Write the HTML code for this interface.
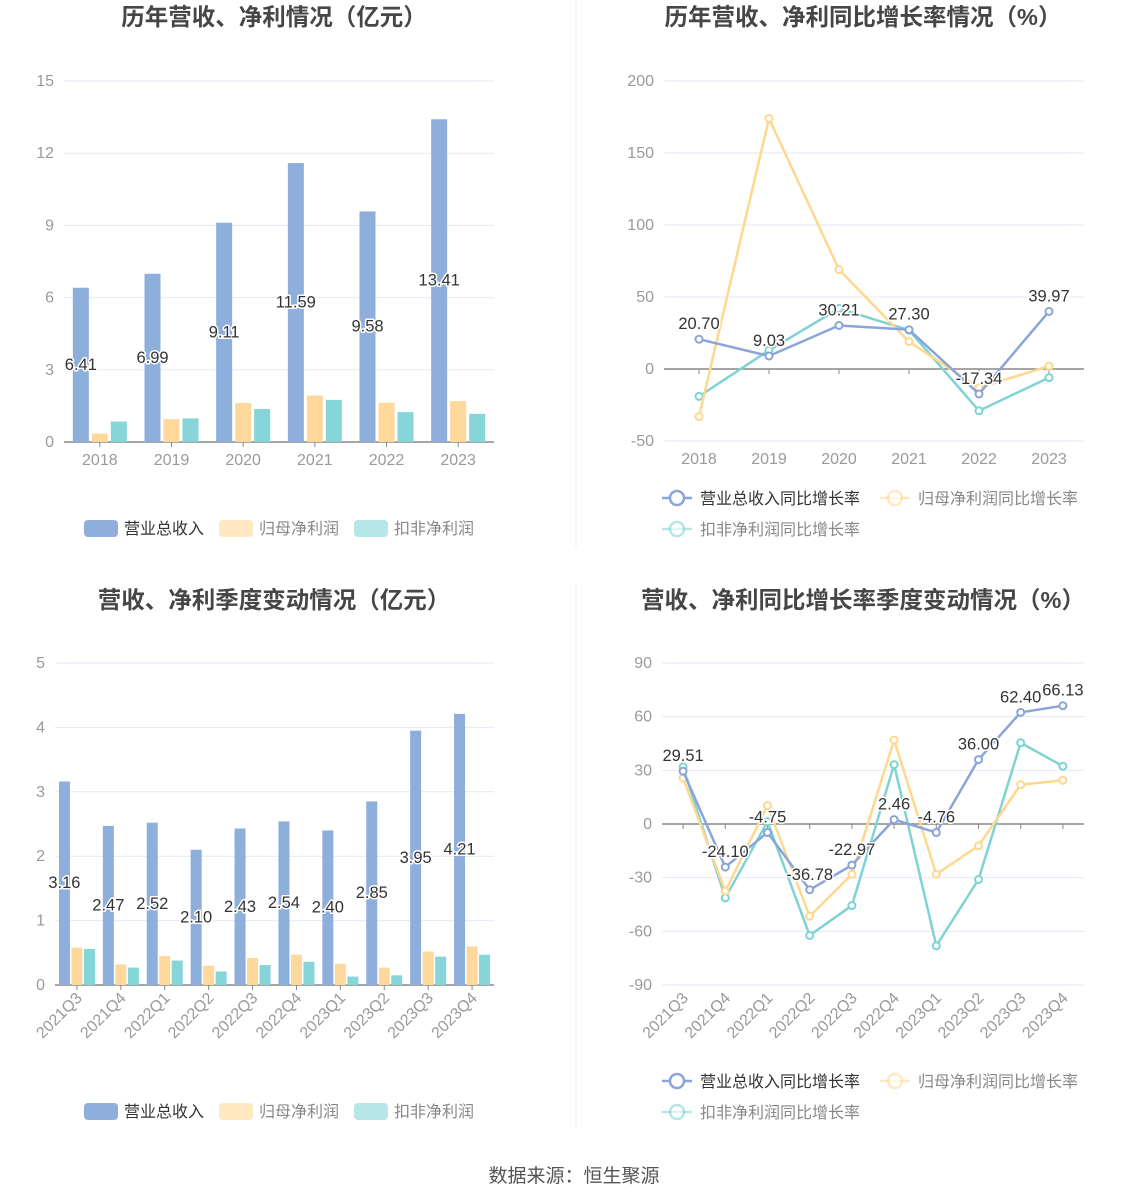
<!DOCTYPE html>
<html><head><meta charset="utf-8">
<style>
html,body{margin:0;padding:0;background:#fff;}
svg{display:block;font-family:"Liberation Sans","Noto Sans CJK SC",sans-serif;}
.ttl{font-size:23.5px;font-weight:bold;fill:#464646;text-anchor:middle;}
.ax{font-size:16px;fill:#9a9a9a;}
.lbl{font-size:16.5px;fill:#333;paint-order:stroke;stroke:#fff;stroke-width:3px;stroke-linejoin:round;text-anchor:middle;}
.lg{font-size:16px;}
</style></head>
<body>
<svg id="root" width="1148" height="1202" viewBox="0 0 1148 1202">
<line x1="576" y1="0" x2="576" y2="548" stroke="#eeeeee"/>
<line x1="576" y1="582" x2="576" y2="1130" stroke="#eeeeee"/>
<text class="ttl" x="274" y="25">历年营收、净利情况（亿元）</text>
<text class="ttl" x="863" y="25">历年营收、净利同比增长率情况（%）</text>
<text class="ttl" x="274" y="608">营收、净利季度变动情况（亿元）</text>
<text class="ttl" x="863" y="608">营收、净利同比增长率季度变动情况（%）</text>
<text x="574" y="1182" text-anchor="middle" font-size="19" fill="#555">数据来源：恒生聚源</text>
</svg>
<script>
const years = ['2018','2019','2020','2021','2022','2023'];
const annualRevenue = [6.41, 6.99, 9.11, 11.59, 9.58, 13.41];
const annualNetProfit = [0.35, 0.95, 1.62, 1.93, 1.63, 1.70];
const annualDeductedProfit = [0.85, 0.98, 1.37, 1.75, 1.24, 1.17];
const annualTicks = [0, 3, 6, 9, 12, 15];

const annualRevenueGrowth = [20.70, 9.03, 30.21, 27.30, -17.34, 39.97];
const annualNetProfitGrowth = [-33, 174, 69, 19, -13, 2];
const annualDeductedGrowth = [-19, 13, 42, 27, -29, -6];
const annualGrowthTicks = [-50, 0, 50, 100, 150, 200];

const quarters = ['2021Q3','2021Q4','2022Q1','2022Q2','2022Q3','2022Q4','2023Q1','2023Q2','2023Q3','2023Q4'];
const quarterRevenue = [3.16, 2.47, 2.52, 2.10, 2.43, 2.54, 2.40, 2.85, 3.95, 4.21];
const quarterNetProfit = [0.58, 0.32, 0.45, 0.30, 0.42, 0.47, 0.33, 0.27, 0.52, 0.60];
const quarterDeductedProfit = [0.56, 0.27, 0.38, 0.21, 0.31, 0.36, 0.13, 0.15, 0.44, 0.47];
const quarterTicks = [0, 1, 2, 3, 4, 5];

const quarterRevenueGrowth = [29.51, -24.10, -4.75, -36.78, -22.97, 2.46, -4.76, 36.00, 62.40, 66.13];
const quarterNetProfitGrowth = [25.7, -37.5, 10.3, -51.6, -28.1, 46.9, -28.1, -12.2, 22.0, 24.4];
const quarterDeductedGrowth = [31.9, -41.3, 1.3, -62.3, -45.6, 33.2, -68.1, -31.0, 45.4, 32.3];
const quarterGrowthTicks = [-90, -60, -30, 0, 30, 60, 90];

const NS = 'http://www.w3.org/2000/svg';
const root = document.getElementById('root');
const C = {blue:'#8eaedb', orange:'#ffd89b', teal:'#86d5d8', lblue:'#8aa5d9', lorange:'#fed88f', lteal:'#7fd3d3'};
function mk(tag, attrs, parent){
  const e = document.createElementNS(NS, tag);
  for (const k in attrs) e.setAttribute(k, attrs[k]);
  (parent||root).appendChild(e);
  return e;
}
function linScale(min, max, y0, y1){ return v => y0 + (v - min) / (max - min) * (y1 - y0); }

function axes(g, ticks, ys, x0, x1, cats, cx, zeroY, rotate, name){
  ticks.forEach(t => {
    const y = ys(t);
    const gl = mk('line', {x1:x0, x2:x1, y1:y, y2:y, stroke:'#e6e9f4'}, g);
    
    
    const tx = mk('text', {x:x0-10, y:y+5, 'text-anchor':'end', class:'ax'}, g);
    tx.textContent = t;
    
    
  });
  const al = mk('line', {x1:x0, x2:x1, y1:zeroY, y2:zeroY, stroke:'#888', 'stroke-width':1.5}, g);
  
  
  cats.forEach((c, i) => {
    const x = cx(i);
    const tk = mk('line', {x1:x, x2:x, y1:zeroY, y2:zeroY+5, stroke:'#888'}, g);
    
    
    let t;
    const ly = ys(ticks[0]);
    if (rotate) {
      t = mk('text', {x:x+6, y:ly+14, 'text-anchor':'end', class:'ax', transform:'rotate(-45 ' + (x+6) + ' ' + (ly+14) + ')'}, g);
    } else {
      t = mk('text', {x:x, y:ly+23, 'text-anchor':'middle', class:'ax'}, g);
    }
    t.textContent = c;
    
    
  });
}

function barChart(name, cats, s1, s2, s3, ticks, x0, x1, yTop, yBot, bw, gap, legendY){
  const g = mk('g', {});
  
  
  const ys = linScale(ticks[0], ticks[ticks.length-1], yBot, yTop);
  const band = (x1 - x0) / cats.length;
  const cx = i => x0 + band * (i + 0.5);
  axes(g, ticks, ys, x0, x1, cats, cx, ys(0), cats.length > 6, name);
  const series = [[s1, C.blue, 'revenue-bar'], [s2, C.orange, 'net-profit-bar'], [s3, C.teal, 'deducted-profit-bar']];
  series.forEach((s, k) => {
    s[0].forEach((v, i) => {
      const x = cx(i) + (k - 1) * (bw + gap) - bw/2;
      const r = mk('rect', {x:x, y:ys(v), width:bw, height:ys(0)-ys(v), fill:s[1]}, g);
      
      
    });
  });
  s1.forEach((v, i) => {
    const x = cx(i) - (bw + gap);
    const t = mk('text', {x:x, y:(ys(v)+ys(0))/2 + 5, class:'lbl'}, g);
    t.textContent = v.toFixed(2);
    
    
  });
  const lg = [[84, C.blue, '营业总收入', '#333'], [219, C.orange, '归母净利润', '#888'], [354, C.teal, '扣非净利润', '#888']];
  lg.forEach(l => {
    const e = mk('g', {}, g);
    
    
    mk('rect', {x:l[0], y:legendY-8, width:34, height:17, rx:4, fill:l[1], opacity: l[3]=='#333' ? 1 : 0.6}, e);
    const t = mk('text', {x:l[0]+40, y:legendY+6, class:'lg', fill:l[3]}, e);
    t.textContent = l[2];
  });
}

function lineChart(name, cats, s1, s2, s3, ticks, x0, x1, yTop, yBot, legendY){
  const g = mk('g', {});
  
  
  const ys = linScale(ticks[0], ticks[ticks.length-1], yBot, yTop);
  const band = (x1 - x0) / cats.length;
  const cx = i => x0 + band * (i + 0.5);
  axes(g, ticks, ys, x0, x1, cats, cx, ys(0), cats.length > 6, name);
  const series = [[s3, C.lteal, 'deducted-growth'], [s2, C.lorange, 'net-profit-growth'], [s1, C.lblue, 'revenue-growth']];
  series.forEach(s => {
    const pts = s[0].map((v, i) => cx(i) + ',' + ys(v)).join(' ');
    const pl = mk('polyline', {points:pts, fill:'none', stroke:s[1], 'stroke-width':2.5}, g);
    
    
    s[0].forEach((v, i) => {
      const c = mk('circle', {cx:cx(i), cy:ys(v), r:3.5, fill:'#fff', stroke:s[1], 'stroke-width':2}, g);
      
      
    });
  });
  s1.forEach((v, i) => {
    const t = mk('text', {x:cx(i), y:ys(v) - 10, class:'lbl'}, g);
    t.textContent = v.toFixed(2);
    
    
  });
  const lg = [[662, legendY, C.lblue, '营业总收入同比增长率', '#333', 1], [880, legendY, C.lorange, '归母净利润同比增长率', '#888', 0.55], [662, legendY+31, C.lteal, '扣非净利润同比增长率', '#888', 0.55]];
  lg.forEach(l => {
    const e = mk('g', {opacity:1}, g);
    
    
    mk('line', {x1:l[0], x2:l[0]+30, y1:l[1], y2:l[1], stroke:l[2], 'stroke-width':2.5, opacity:l[5]}, e);
    mk('circle', {cx:l[0]+15, cy:l[1], r:7, fill:'#fff', stroke:l[2], 'stroke-width':2.5, opacity:l[5]}, e);
    const t = mk('text', {x:l[0]+38, y:l[1]+6, class:'lg', fill:l[4]}, e);
    t.textContent = l[3];
  });
}

barChart('annual-revenue-chart', years, annualRevenue, annualNetProfit, annualDeductedProfit, annualTicks, 64, 494, 81, 442, 16, 3, 528);
lineChart('annual-growth-chart', years, annualRevenueGrowth, annualNetProfitGrowth, annualDeductedGrowth, annualGrowthTicks, 664, 1084, 81, 441, 498);
barChart('quarterly-revenue-chart', quarters, quarterRevenue, quarterNetProfit, quarterDeductedProfit, quarterTicks, 55, 494, 663, 985, 11, 1.5, 1111);
lineChart('quarterly-growth-chart', quarters, quarterRevenueGrowth, quarterNetProfitGrowth, quarterDeductedGrowth, quarterGrowthTicks, 662, 1084, 663, 985, 1081);
</script>
</body></html>
